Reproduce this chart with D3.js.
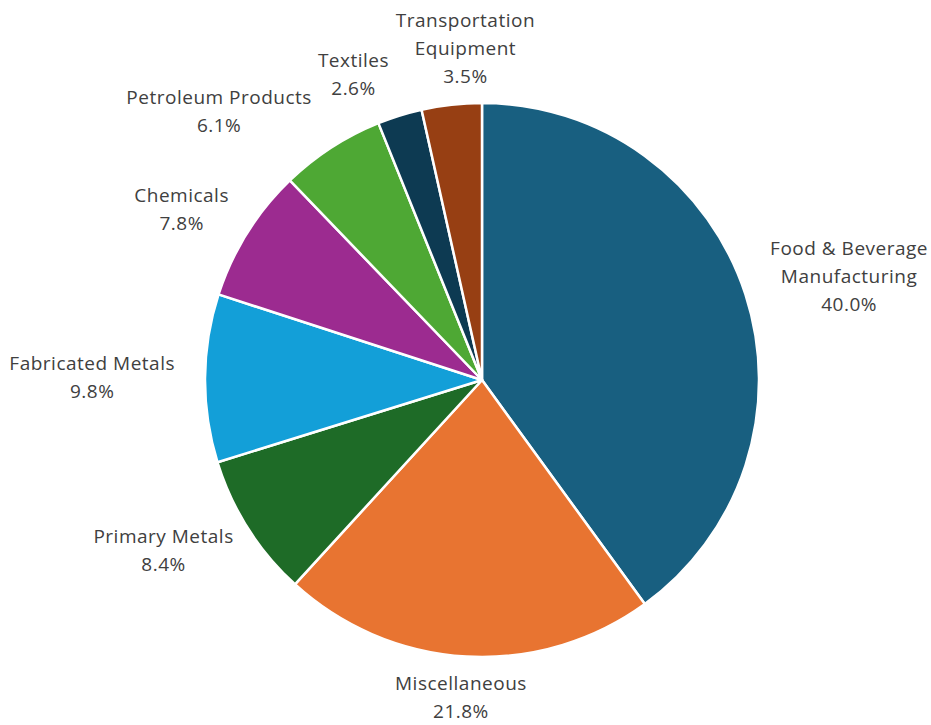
<!DOCTYPE html>
<html>
<head>
<meta charset="utf-8">
<script src="https://cdn.jsdelivr.net/npm/d3@7/dist/d3.min.js"></script>
<style>
  html, body { margin: 0; padding: 0; background: #ffffff; }
  svg { display: block; }
  text { font-family: "Open Sans", Lato, sans-serif; fill: #404040; letter-spacing: 0.5px; }
</style>
</head>
<body>
<svg id="chart" width="931" height="725"></svg>
<script>
// Share of establishments by industry, percent
const categories = [
  "Food & Beverage Manufacturing",
  "Miscellaneous",
  "Primary Metals",
  "Fabricated Metals",
  "Chemicals",
  "Petroleum Products",
  "Textiles",
  "Transportation Equipment"
];
const values = [40.0, 21.8, 8.4, 9.8, 7.8, 6.1, 2.6, 3.5];
// How each category name is broken across lines
const labelLines = [
  ["Food & Beverage", "Manufacturing"],
  ["Miscellaneous"],
  ["Primary Metals"],
  ["Fabricated Metals"],
  ["Chemicals"],
  ["Petroleum Products"],
  ["Textiles"],
  ["Transportation", "Equipment"]
];
const colors = ["#185f80", "#e87431", "#1e6b27", "#139fd8", "#9c2b90", "#4ea834", "#0d3a52", "#973f13"];

const width = 931, height = 725;
const cx = 482, cy = 380, radius = 277;
const fontSize = 19, lineH = 28;
const gapX = 30, gapY = 14;   // clearance between rim and label box

const svg = d3.select("#chart");
const g = svg.append("g").attr("transform", `translate(${cx},${cy})`);

const data = categories.map((c, i) => ({ name: c, value: values[i], lines: labelLines[i], color: colors[i] }));

const pie = d3.pie().value(d => d.value).sort(null);
const arc = d3.arc().innerRadius(0).outerRadius(radius);
const arcs = pie(data);

g.selectAll("path.slice")
  .data(arcs)
  .join("path")
  .attr("class", "slice")
  .attr("d", arc)
  .attr("fill", d => d.data.color)
  .attr("stroke", "#ffffff")
  .attr("stroke-width", 2.5)
  .attr("stroke-linejoin", "round");

// Build label text first so each box can be measured
const labels = arcs.map(d => {
  const lines = d.data.lines.concat([d.data.value.toFixed(1) + "%"]);
  const t = g.append("text")
    .attr("text-anchor", "middle")
    .attr("font-size", fontSize);
  lines.forEach((ln, i) => {
    t.append("tspan").attr("x", 0).attr("dy", i === 0 ? 0 : lineH).text(ln);
  });
  const w = t.node().getBBox().width;
  const angle = (d.startAngle + d.endAngle) / 2;
  const s = Math.sin(angle), c = -Math.cos(angle);
  // box centre: inner edge just outside the rim along the slice's mid-angle
  return { t, w, h: lines.length * lineH, angle,
           x: s * (radius + gapX + w / 2),
           y: c * (radius + gapY + lines.length * lineH / 2) };
});

function overlap(a, b, pad) {
  const ox = (a.w + b.w) / 2 + pad - Math.abs(a.x - b.x);
  const oy = (a.h + b.h) / 2 - Math.abs(a.y - b.y);
  return ox > 0 && oy > 0;
}

// Slide crowded neighbours apart along the dominant tangent direction
for (let iter = 0; iter < 2000; iter++) {
  let moved = false;
  for (let i = 0; i < labels.length; i++) {
    const a = labels[i], b = labels[(i + 1) % labels.length];
    if (overlap(a, b, 6)) {
      const m = (a.angle + b.angle) / 2;
      let tx = Math.cos(m), ty = Math.sin(m);
      if (Math.abs(tx) >= Math.abs(ty)) { tx = Math.sign(tx); ty = 0; }
      else { ty = Math.sign(ty); tx = 0; }
      a.x -= tx * 0.5; a.y -= ty * 0.5;
      b.x += tx * 0.25; b.y += ty * 0.25;
      moved = true;
    }
  }
  if (!moved) break;
}

labels.forEach(l => {
  const top = l.y - l.h / 2;
  l.t.attr("transform", `translate(${l.x},${top + lineH * 0.7})`);
});
</script>
</body>
</html>
